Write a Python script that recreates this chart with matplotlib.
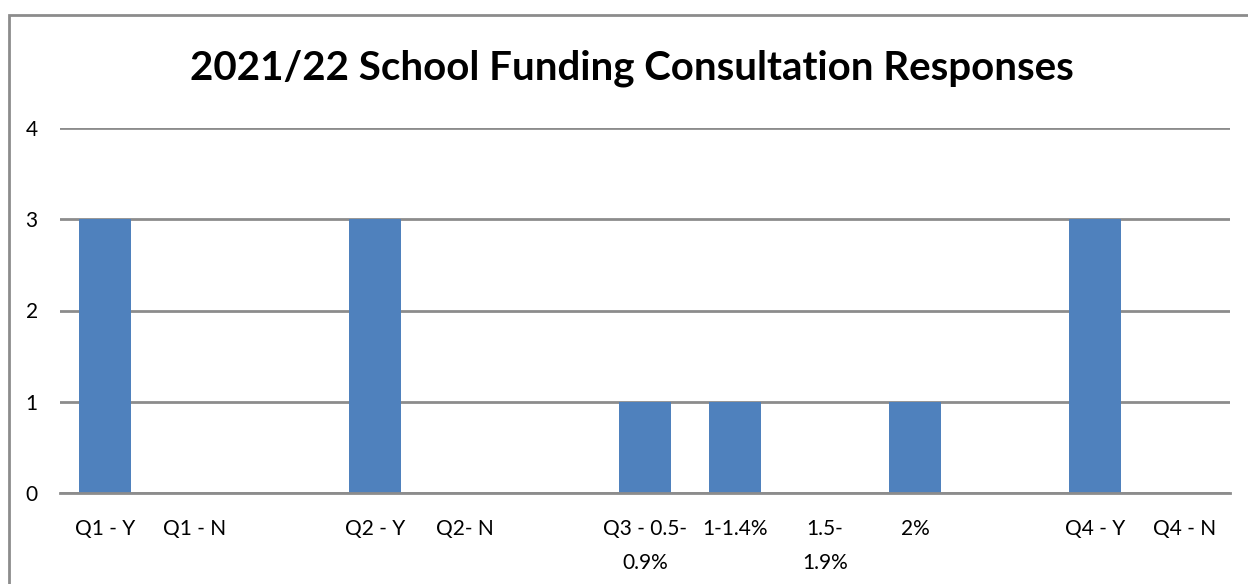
import matplotlib
matplotlib.use("Agg")
import matplotlib.pyplot as plt
from matplotlib.patches import Rectangle

categories = ["Q1 - Y", "Q1 - N", "", "Q2 - Y", "Q2- N", "", "Q3 - 0.5-\n0.9%",
              "1-1.4%", "1.5-\n1.9%", "2%", "", "Q4 - Y", "Q4 - N"]
values = [3, 0, 0, 3, 0, 0, 1, 1, 0, 1, 0, 3, 0]
yticks = [0, 1, 2, 3, 4]
title = "2021/22 School Funding Consultation Responses"

plt.rcParams['font.family'] = ['Lato', 'DejaVu Sans']

W, H = 1248, 584
fig = plt.figure(figsize=(W / 100, H / 100), dpi=100)
ax = fig.add_axes([60 / W, 1 - 493 / H, 1170 / W, (493 - 128) / H])

x = list(range(len(categories)))
ax.bar(x, values, width=0.57, color="#4F81BD", zorder=3)
ax.set_xlim(-0.5, len(categories) - 0.5)
ax.set_ylim(0, 4)
ax.set_yticks(yticks)
ax.set_yticklabels([str(t) for t in yticks], fontsize=15)
ax.set_xticks(x)
ax.set_xticklabels(categories, fontsize=15, linespacing=1.85, va="top")
ax.tick_params(axis="x", length=0, pad=19)
ax.tick_params(axis="y", length=0, pad=16)
ax.grid(axis="y", color="#8C8C8C", linewidth=2, zorder=0)
for s in ["top", "right", "left"]:
    ax.spines[s].set_visible(False)
ax.spines["bottom"].set_color("#8C8C8C")
ax.spines["bottom"].set_linewidth(2)
ax.spines["bottom"].set_zorder(4)

fig.text(632 / W, 1 - 68 / H, title, ha="center", va="center",
         fontsize=29, fontweight="bold")

fig.patches.append(Rectangle((9 / W, -0.1), 1.2, 1 - 15 / H + 0.1,
                             transform=fig.transFigure, fill=False,
                             edgecolor="#8C8C8C", linewidth=2))

fig.savefig("out.png", dpi=100)
